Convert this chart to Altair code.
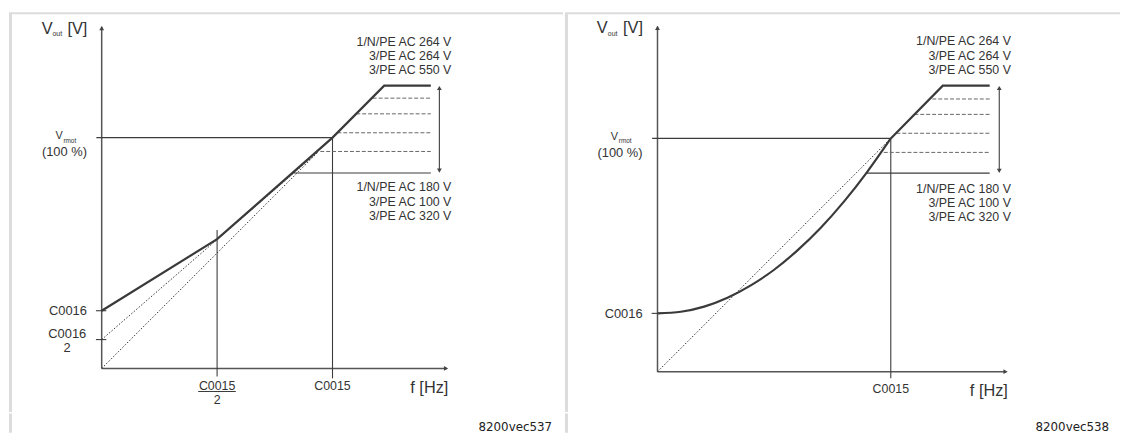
import altair as alt
import pandas as pd

# ---------------- data (f in % of C0015, V in % of V_rmot) ----------------
# Left diagram (8200vec537): linear characteristic with V_min boost
L_main_f = [0, 50, 100, 122.4, 142.6]
L_main_v = [25, 56, 100, 122.5, 122.5]
L_dot_a_f = [0, 94]
L_dot_a_v = [0, 94]
L_dot_b_f = [0, 94]
L_dot_b_v = [12.5, 94]
L_dash_v = [117.1, 110.3, 102.1, 94.0]
L_dash_f0 = [117.4, 110.3, 102.1, 94.7]
L_low_v = 84.7
L_low_f0 = 82.9
L_end_f = 142.6
L_arrow_f = 146.3
L_top_v = 122.5

# Right diagram (8200vec538): square-law characteristic
R_curve_f = [0, 10, 20, 30, 40, 50, 60, 70, 80, 90, 100]
R_curve_v = [25, 25.7, 27.9, 31.7, 37.0, 43.7, 52.0, 61.7, 73.0, 85.8, 100]
R_lin_f = [100, 122.3, 142.4]
R_lin_v = [100, 122.6, 122.6]
R_dot_f = [0, 100]
R_dot_v = [0, 100]
R_dash_v = [116.9, 110.3, 102.2, 94.0]
R_dash_f0 = [117.8, 110.1, 102.4, 97.0]
R_low_v = 85.1
R_low_f0 = 89.3
R_end_f = 142.4
R_arrow_f = 146.5
R_top_v = 122.6

upper_mains = ["1/N/PE AC 264 V", "3/PE AC 264 V", "3/PE AC 550 V"]
upper_mains_v = [141.0, 134.8, 128.5]
lower_mains = ["1/N/PE AC 180 V", "3/PE AC 100 V", "3/PE AC 320 V"]
lower_mains_v = [78.4, 72.2, 66.1]

FONT = "Liberation Sans"
INK = "#333333"

STYLES = {
    "axis": dict(color="#555555", strokeWidth=1.5),
    "thin": dict(color="#3c3c3c", strokeWidth=1.1),
    "dash": dict(color="#666666", strokeWidth=1, strokeDash=[4, 2]),
    "dot": dict(color="#333333", strokeWidth=1, strokeDash=[1.5, 1.8]),
}


def build_panel(W, H, ox, oy, k, mains, dash_v, dash_f0, end_f, low_v, low_f0,
                arrow_f, top_v, c15_bottom, extra_segs, extra_labels, footer):
    xs = alt.Scale(domain=[-ox / k, (W - ox) / k], nice=False, zero=False)
    ys = alt.Scale(domain=[(oy - H) / k, oy / k], nice=False, zero=False)

    def X(f="u"):
        return alt.X(f"{f}:Q", scale=xs, axis=None)

    def Y(f="v"):
        return alt.Y(f"{f}:Q", scale=ys, axis=None)

    segs = [
        ("axis", 0, 0, 0, 148.0),
        ("axis", 0, 0, 149.5, 0),
        ("thin", -2.3, 100, 100, 100),
        ("thin", 100, 100, 100, c15_bottom),
        ("thin", -2.5, 25, 2.0, 25),
        ("thin", low_f0, low_v, end_f, low_v),
        ("thin", arrow_f, top_v - 1, arrow_f, low_v + 1),
    ]
    for f0, v in zip(dash_f0, dash_v):
        segs.append(("dash", f0, v, end_f, v))
    segs += extra_segs
    sdf = pd.DataFrame(segs, columns=["style", "u", "v", "u2", "v2"])

    layers = []
    # frame (light grey page rules)
    frame = "#dcdcdc"
    layers.append(alt.Chart(pd.DataFrame({"a": [0]})).mark_rule(color=frame, strokeWidth=2).encode(
        x=alt.value(0), x2=alt.value(W), y=alt.value(3)))
    layers.append(alt.Chart(pd.DataFrame({"a": [0]})).mark_rule(color=frame, strokeWidth=3).encode(
        x=alt.value(1.5), y=alt.value(3), y2=alt.value(406)))
    layers.append(alt.Chart(pd.DataFrame({"a": [0]})).mark_rule(color=frame, strokeWidth=3).encode(
        x=alt.value(1.5), y=alt.value(407.5), y2=alt.value(H)))

    for st, props in STYLES.items():
        sub = sdf[sdf["style"] == st]
        if len(sub) == 0:
            continue
        layers.append(alt.Chart(sub).mark_rule(**props).encode(
            x=X("u"), x2="u2", y=Y("v"), y2="v2"))

    for fs, vs, interp in mains:
        mdf = pd.DataFrame({"u": fs, "v": vs, "i": list(range(len(fs)))})
        layers.append(alt.Chart(mdf).mark_line(color="#3a3a3a", strokeWidth=2.2,
                                               interpolate=interp).encode(
            x=X("u"), y=Y("v"), order="i:Q"))

    heads = pd.DataFrame({
        "u": [0, 149.2, arrow_f, arrow_f],
        "v": [147.4, 0, top_v - 1.0, low_v + 1.0],
        "shape": ["triangle-up", "triangle-right", "triangle-up", "triangle-down"],
    })
    layers.append(alt.Chart(heads).mark_point(filled=True, color="#444444", opacity=1, size=24).encode(
        x=X("u"), y=Y("v"), shape=alt.Shape("shape:N", scale=None)))

    labels = [
        (-26.0, 147.1, "V", 16.5, "left"),
        (-21.3, 144.8, "out", 7, "left"),
        (-6.2, 147.1, "[V]", 16.5, "right"),
        (-20.0, 100.6, "V", 11, "left"),
        (-16.6, 98.7, "rmot", 6.5, "left"),
        (-6.4, 93.6, "(100 %)", 13, "right"),
        (-6.4, 24.8, "C0016", 13, "right"),
        (100, -7.5, "C0015", 12.5, "center"),
        (150.2, -8.5, "f [Hz]", 16.5, "right"),
    ]
    for t, v in zip(upper_mains, upper_mains_v):
        labels.append((151.5, v + 0.6, t, 12.5, "right"))
    for t, v in zip(lower_mains, lower_mains_v):
        labels.append((151.5, v, t, 12.5, "right"))
    labels += extra_labels
    ldf = pd.DataFrame(labels, columns=["u", "v", "t", "size", "align"])
    for (sz, al), sub in ldf.groupby(["size", "align"]):
        layers.append(alt.Chart(sub).mark_text(font=FONT, fontSize=float(sz), align=al,
                                               baseline="middle", color=INK).encode(
            x=X("u"), y=Y("v"), text="t:N"))

    layers.append(alt.Chart(pd.DataFrame({"t": [footer]})).mark_text(
        font="DejaVu Sans", fontSize=12, align="right", baseline="middle", color="#222222").encode(
        x=alt.value(W - 11), y=alt.value(421.5), text="t:N"))

    return alt.layer(*layers).properties(width=W, height=H)


left = build_panel(
    W=560, H=427, ox=93.7, oy=362.0, k=2.333,
    mains=[(L_main_f, L_main_v, "linear")],
    dash_v=L_dash_v, dash_f0=L_dash_f0, end_f=L_end_f, low_v=L_low_v, low_f0=L_low_f0,
    arrow_f=L_arrow_f, top_v=L_top_v, c15_bottom=-4.3,
    extra_segs=[
        ("thin", 50, 60, 50, -3.5),
        ("thin", -2.5, 12.5, 2.0, 12.5),
        ("thin", 41.8, -10.0, 58.1, -10.0),
        ("dot", L_dot_a_f[0], L_dot_a_v[0], L_dot_a_f[1], L_dot_a_v[1]),
        ("dot", L_dot_b_f[0], L_dot_b_v[0], L_dot_b_f[1], L_dot_b_v[1]),
    ],
    extra_labels=[
        (-6.7, 15.0, "C0016", 13, "right"),
        (-15.0, 9.0, "2", 13, "center"),
        (50, -7.6, "C0015", 12.5, "center"),
        (50, -13.6, "2", 12.5, "center"),
    ],
    footer="8200vec537",
)

right = build_panel(
    W=561, H=427, ox=93.5, oy=365.3, k=2.358,
    mains=[(R_curve_f, R_curve_v, "monotone"), (R_lin_f, R_lin_v, "linear")],
    dash_v=R_dash_v, dash_f0=R_dash_f0, end_f=R_end_f, low_v=R_low_v, low_f0=R_low_f0,
    arrow_f=R_arrow_f, top_v=R_top_v, c15_bottom=-2.8,
    extra_segs=[
        ("dot", R_dot_f[0], R_dot_v[0], R_dot_f[1], R_dot_v[1]),
    ],
    extra_labels=[],
    footer="8200vec538",
)

chart = alt.hconcat(left, right, spacing=0).properties(padding=0).configure_view(stroke=None)
chart.save("out.html", embed_options={"renderer": "svg", "actions": False})
